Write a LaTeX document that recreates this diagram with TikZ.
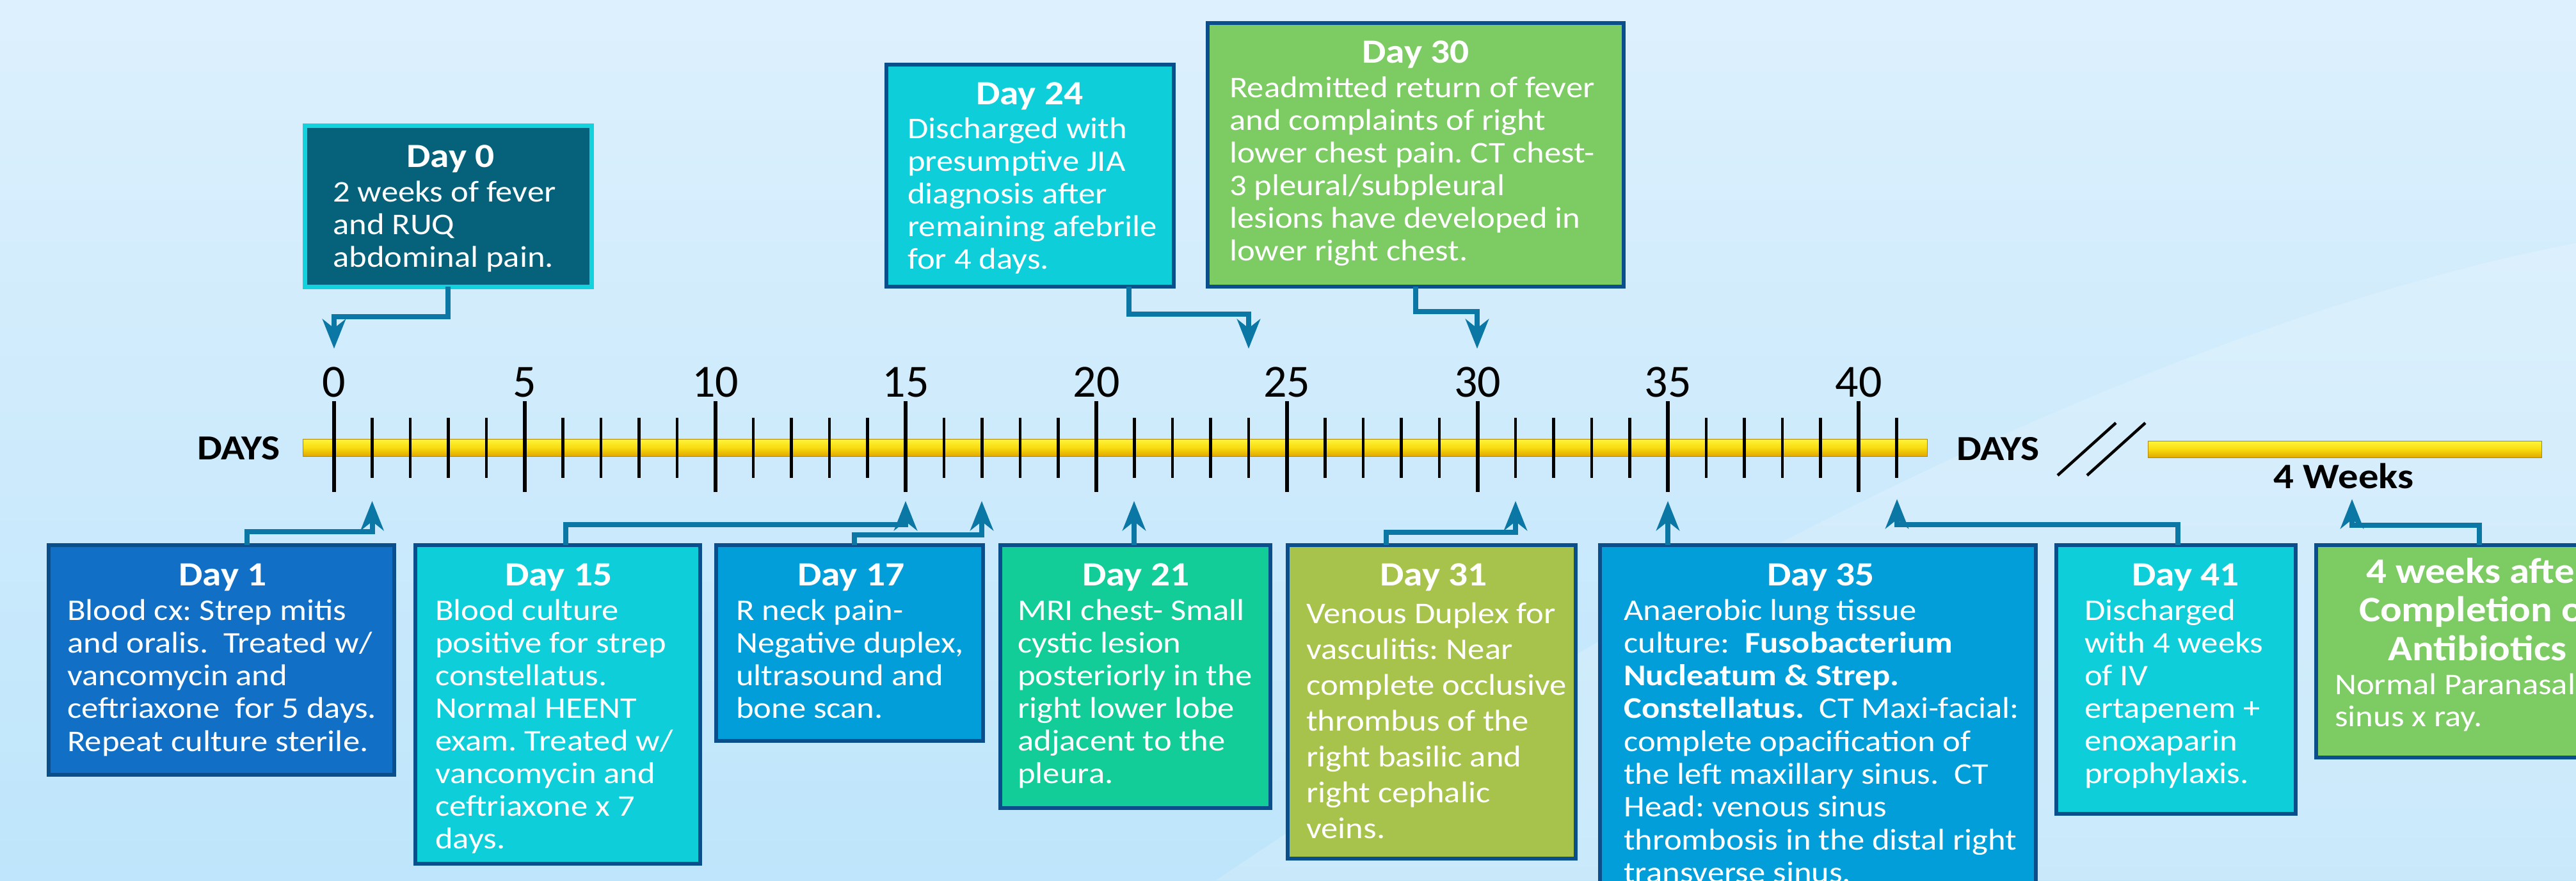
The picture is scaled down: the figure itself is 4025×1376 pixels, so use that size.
\documentclass[tikz,border=0pt]{standalone}
\usepackage{fontspec}
\setmainfont{Carlito}[FakeStretch=1.12]
\newfontfamily\tickfont{Carlito}
\usetikzlibrary{arrows.meta}
\definecolor{bordc}{HTML}{0B4E8C}
\definecolor{connc}{HTML}{0A77A5}
\definecolor{teal0}{HTML}{05627A}
\definecolor{cyan0}{HTML}{12D2DD}
\definecolor{cyanbox}{HTML}{0ECFD9}
\definecolor{greenbox}{HTML}{7CCB63}
\definecolor{bluebox}{HTML}{1170C6}
\definecolor{skybox}{HTML}{029ED9}
\definecolor{mintbox}{HTML}{12CD98}
\definecolor{olivebox}{HTML}{A8C34B}
\definecolor{bgtop}{HTML}{DDF0FD}
\definecolor{bgbot}{HTML}{BEE5FB}
\definecolor{barhi}{HTML}{FFF53C}
\definecolor{barmid}{HTML}{F8DC10}
\definecolor{barlo}{HTML}{E2A800}
\newcommand\evlines[2]{\parbox[t]{900pt}{\frenchspacing\fontsize{47}{#1}\selectfont\raggedright #2}}
\tikzset{
  evbox/.style={draw=bordc, line width=6.5pt, anchor=north west, inner sep=0pt, outer sep=0pt},
  hd/.style={anchor=base, text=white, inner sep=0pt, font=\fontsize{53}{60}\selectfont\bfseries},
  bd/.style={anchor=base west, text=white, inner sep=0pt},
  conn/.style={draw=connc, line width=8pt, -{Stealth[length=46pt,width=36pt,inset=14pt]}},
  majtick/.style={draw=black, line width=6pt},
  mintick/.style={draw=black, line width=4.5pt},
  ticklbl/.style={anchor=base, inner sep=0pt, font=\tickfont\fontsize{72}{80}\selectfont},
  axlbl/.style={anchor=base, inner sep=0pt, font=\fontsize{55}{60}\selectfont\bfseries},
}
\begin{document}
\begin{tikzpicture}[x=1pt,y=-1pt]
\useasboundingbox (0,0) rectangle (4025,1376);
\clip (0,0) rectangle (4025,1376);
% background
\shade[top color=bgtop, bottom color=bgbot] (0,0) rectangle (4025,1376);
\fill[white,opacity=0.18] (1900,1376) .. controls (2600,900) and (3400,500) .. (4025,380) -- (4025,1376) -- cycle;

% timeline bars
\shade[top color=barhi, bottom color=barlo, middle color=barmid, draw=barlo!80!black, line width=1pt]
  (473,686) rectangle (3011,713);
\shade[top color=barhi, bottom color=barlo, middle color=barmid, draw=barlo!80!black, line width=1pt]
  (3356,689) rectangle (3971,715);

% ticks and labels
\foreach \d in {0,...,41}{
  \pgfmathsetmacro\xx{522+59.55*\d}
  \pgfmathtruncatemacro\md{mod(\d,5)}
  \ifnum\md=0
    \draw[majtick] (\xx,627) -- (\xx,769);
    \node[ticklbl] (lbl\d) at (\xx,620) {\d};
  \else
    \draw[mintick] (\xx,653) -- (\xx,747);
  \fi
}
\node[axlbl] (daysL) at (373,718) {DAYS};
\node[axlbl] (daysR) at (3122,719) {DAYS};
\node[axlbl, font=\fontsize{56}{60}\selectfont\bfseries] (weeks) at (3662,763) {4 Weeks};
\draw[line width=4.5pt] (3215,743) -- (3306,661);
\draw[line width=4.5pt] (3261,743) -- (3352,661);

% tip coordinates
\coordinate (t0) at (522,545);
\coordinate (t24) at (1951,545);
\coordinate (t30) at (2308,545);
\coordinate (t1) at (581.5,783);
\coordinate (t15) at (1415,783);
\coordinate (t17) at (1534,783);
\coordinate (t21) at (1772,783);
\coordinate (t31) at (2368,783);
\coordinate (t35) at (2606,783);
\coordinate (t41) at (2964,780);
\coordinate (t4w) at (3675,780);

% ---------- top boxes ----------
\node[evbox, draw=cyan0, line width=7pt, fill=teal0, minimum width=448pt, minimum height=252pt] (b0) at (476,196) {};
\node[hd] (h0) at (704,261) {Day 0};
\node[bd] (x0) at (520,315) {\evlines{51.3pt}{2 weeks of fever\\and RUQ\\abdominal pain.}};

\node[evbox, fill=cyanbox, minimum width=449pt, minimum height=347pt] (b24) at (1385,101) {};
\node[hd] (h24) at (1609,163) {Day 24};
\node[bd] (x24) at (1418,216.5) {\evlines{51pt}{Discharged with\\presumptive JIA\\diagnosis after\\remaining afebrile\\for 4 days.}};

\node[evbox, fill=greenbox, minimum width=650pt, minimum height=412pt] (b30) at (1887,36) {};
\node[hd] (h30) at (2212,98) {Day 30};
\node[bd] (x30) at (1921,152) {\evlines{51pt}{Readmitted return of fever\\and complaints of right\\lower chest pain. CT chest-\\3 pleural/subpleural\\lesions have developed in\\lower right chest.}};

% ---------- bottom boxes ----------
\node[evbox, fill=bluebox, minimum width=540pt, minimum height=359pt] (b1) at (76,852) {};
\node[hd] (h1) at (348,915) {Day 1};
\node[bd] (x1) at (105,969) {\evlines{51.3pt}{Blood cx: Strep mitis\\and oralis.\ \ Treated w/\\vancomycin and\\ceftriaxone\ \ for 5 days.\\Repeat culture sterile.}};

\node[evbox, fill=cyanbox, minimum width=445pt, minimum height=498pt] (b15) at (649,852) {};
\node[hd] (h15) at (873,915) {Day 15};
\node[bd] (x15) at (680,969) {\evlines{51pt}{Blood culture\\positive for strep\\constellatus.\\Normal HEENT\\exam. Treated w/\\vancomycin and\\ceftriaxone x 7\\days.}};

\node[evbox, fill=skybox, minimum width=417pt, minimum height=306pt] (b17) at (1119,852) {};
\node[hd] (h17) at (1330,915) {Day 17};
\node[bd] (x17) at (1150,969) {\evlines{51pt}{R neck pain-\\Negative duplex,\\ultrasound and\\bone scan.}};

\node[evbox, fill=mintbox, minimum width=422pt, minimum height=411pt] (b21) at (1563,852) {};
\node[hd] (h21) at (1775,915) {Day 21};
\node[bd] (x21) at (1590,969) {\evlines{51pt}{MRI chest- Small\\cystic lesion\\posteriorly in the\\right lower lobe\\adjacent to the\\pleura.}};

\node[evbox, fill=olivebox, minimum width=450pt, minimum height=490pt] (b31) at (2012,852) {};
\node[hd] (h31) at (2240,915) {Day 31};
\node[bd] (x31) at (2041,974) {\evlines{56pt}{Venous Duplex for\\vasculitis: Near\\complete occlusive\\thrombus of the\\right basilic and\\right cephalic\\veins.}};

\node[evbox, fill=skybox, minimum width=681pt, minimum height=600pt] (b35) at (2500,852) {};
\node[hd] (h35) at (2845,915) {Day 35};
\node[bd] (x35) at (2537,969) {\evlines{51.3pt}{Anaerobic lung tissue\\culture:\ \ \textbf{Fusobacterium}\\\textbf{Nucleatum \& Strep.}\\\textbf{Constellatus.}\ \ CT Maxi-facial:\\complete opacification of\\the left maxillary sinus.\ \ CT\\Head: venous sinus\\thrombosis in the distal right\\transverse sinus.}};

\node[evbox, fill=cyanbox, minimum width=374pt, minimum height=420pt] (b41) at (3213,852) {};
\node[hd] (h41) at (3415,915) {Day 41};
\node[bd] (x41) at (3257,969) {\evlines{51pt}{Discharged\\with 4 weeks\\of IV\\ertapenem +\\enoxaparin\\prophylaxis.}};

\node[evbox, fill=greenbox, minimum width=502pt, minimum height=332pt] (b4w) at (3619,852) {};
\node[anchor=base, text=white, inner sep=0pt] (h4w) at (3871,911) {\parbox[t]{600pt}{\centering\fontsize{56}{60.5}\selectfont\bfseries 4 weeks after\\Completion of\\Antibiotics}};
\node[bd] (x4w) at (3648,1085) {\evlines{50pt}{Normal Paranasal\\sinus x ray.}};

% ---------- connectors ----------
\draw[conn] (b0.south) -- ++(0,47) -| (t0);
\draw[conn] ([xshift=154.5pt]b24.south) -- ++(0,43) -| (t24);
\draw[conn] (b30.south) -- ++(0,39) -| (t30);
\draw[conn] ([xshift=40pt]b1.north) -- ++(0,-21) -| (t1);
\draw[conn] ([xshift=12.5pt]b15.north) -- ++(0,-32) -| (t15);
\draw[conn] ([xshift=7.5pt]b17.north) -- ++(0,-16) -| (t17);
\draw[conn] (t21 |- b21.north) -- (t21);
\draw[conn] ([xshift=-71pt]b31.north) -- ++(0,-20) -| (t31);
\draw[conn] (t35 |- b35.north) -- (t35);
\draw[conn] ([xshift=3pt]b41.north) -- ++(0,-32) -| (t41);
\draw[conn] ([xshift=4pt]b4w.north) -- ++(0,-31) -| (t4w);
\end{tikzpicture}
\end{document}
